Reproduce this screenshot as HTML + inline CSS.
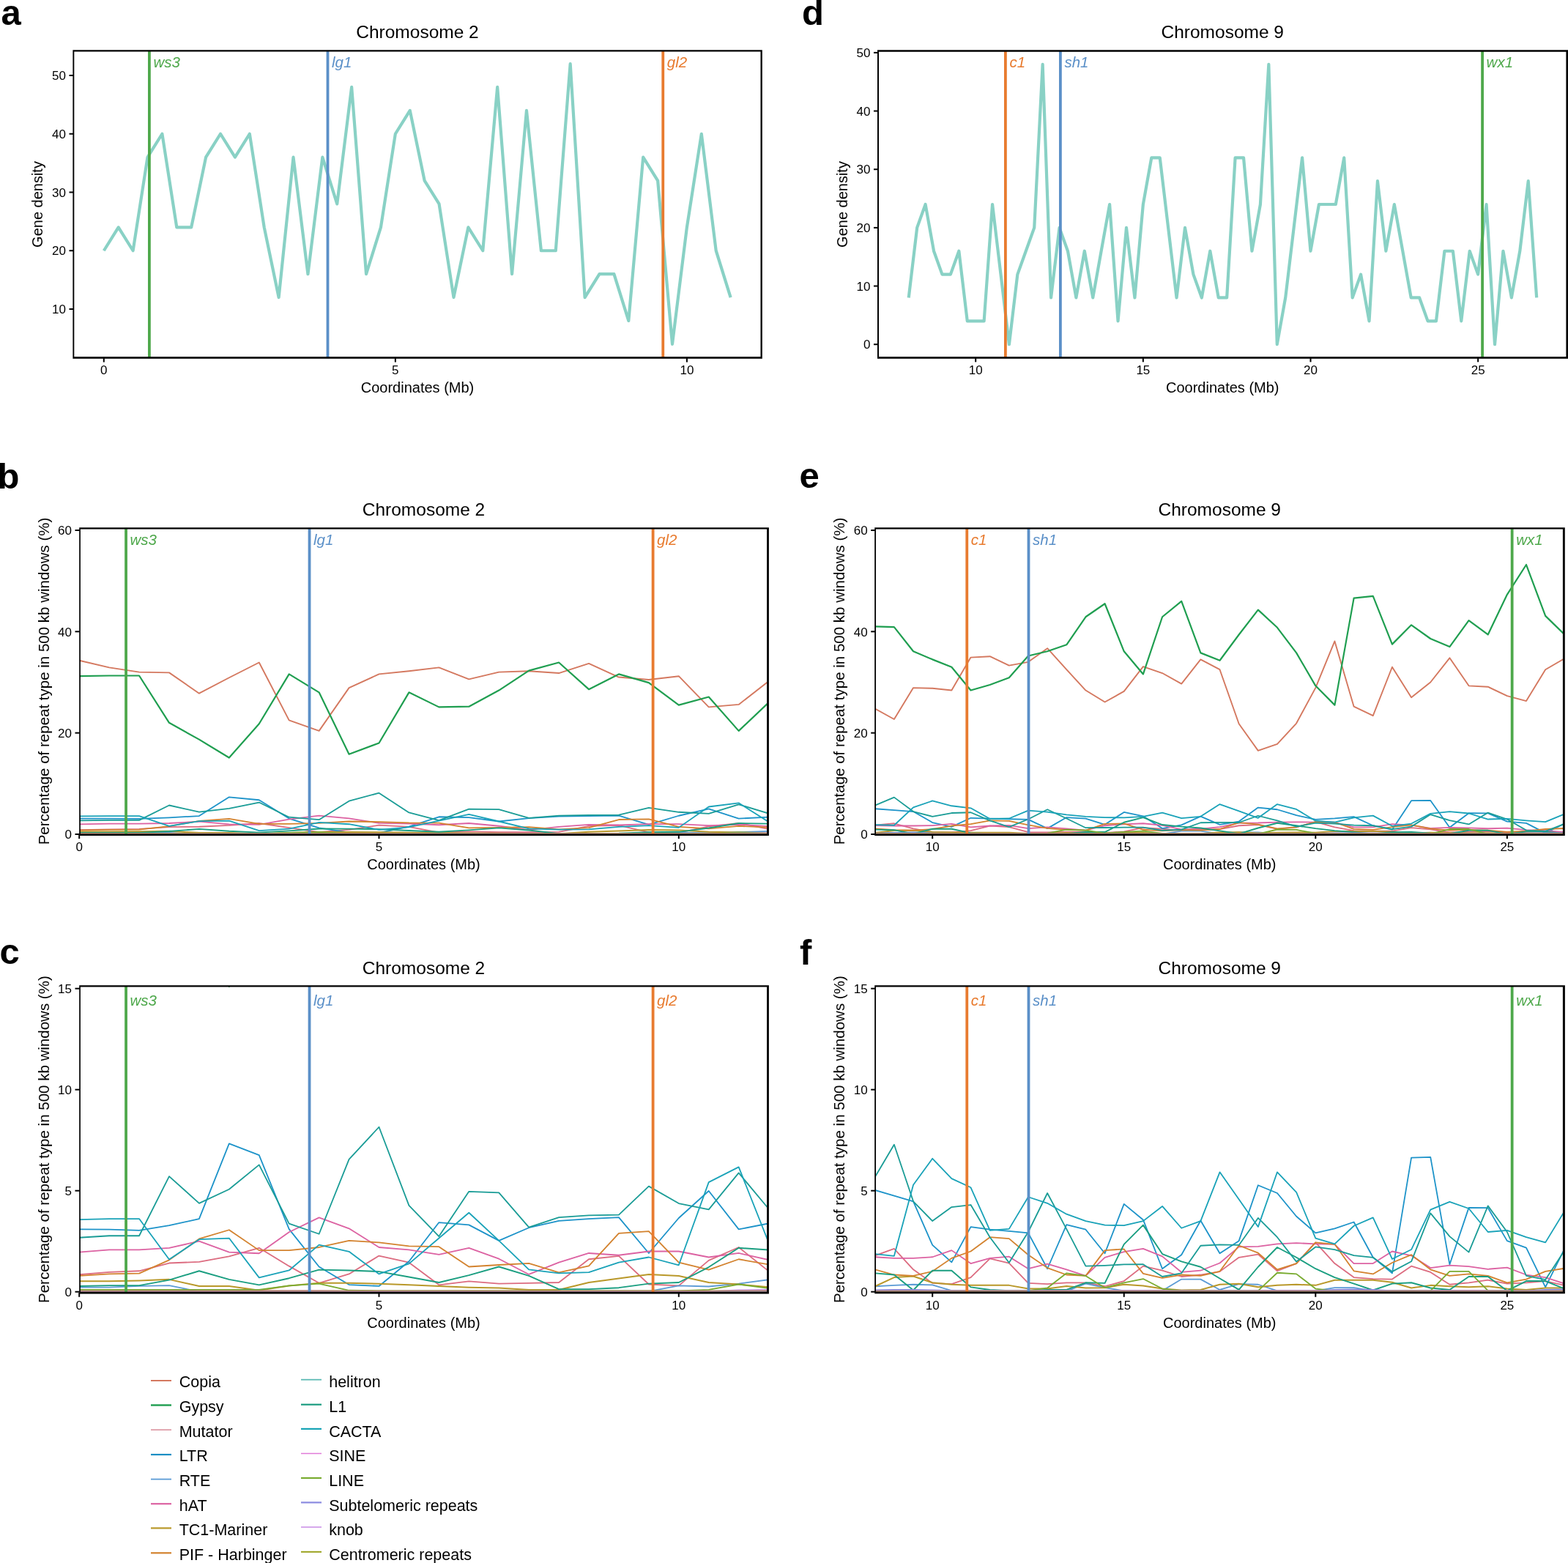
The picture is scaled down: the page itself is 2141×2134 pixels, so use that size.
<!DOCTYPE html>
<html><head><meta charset="utf-8"><title>Figure</title>
<style>html,body{margin:0;padding:0;background:#fff;overflow:hidden;}svg{display:block;}</style>
</head><body>
<svg width="2141" height="2134" viewBox="0 0 2141 2134" font-family='"Liberation Sans", Arial, Helvetica, sans-serif'>
<rect width="2141" height="2134" fill="#fff"/>
<defs>
</defs>
<polyline points="141.8,342.25 161.7,310.35 181.61,342.25 201.51,214.65 221.41,182.75 241.31,310.35 261.22,310.35 281.12,214.65 301.02,182.75 320.92,214.65 340.83,182.75 360.73,310.35 380.63,406.05 400.53,214.65 420.44,374.15 440.34,214.65 460.24,278.45 480.14,118.95 500.05,374.15 519.95,310.35 539.85,182.75 559.75,150.85 579.65,246.55 599.56,278.45 619.46,406.05 639.36,310.35 659.27,342.25 679.17,118.95 699.07,374.15 718.97,150.85 738.88,342.25 758.78,342.25 778.68,87.05 798.58,406.05 818.48,374.15 838.39,374.15 858.29,437.95 878.19,214.65 898.1,246.55 918,469.85 937.9,310.35 957.8,182.75 977.7,342.25 997.61,406.05" fill="none" stroke="#89d1c5" stroke-width="4.2" stroke-linejoin="round" stroke-linecap="butt"/>
<line x1="203.9" y1="69.5" x2="203.9" y2="488.5" stroke="#4ea84b" stroke-width="3.8"/>
<text x="209.4" y="92.3" font-size="20.5" text-anchor="start" font-weight="normal" font-style="italic" fill="#4ea84b">ws3</text>
<line x1="447.5" y1="69.5" x2="447.5" y2="488.5" stroke="#5b90c8" stroke-width="3.8"/>
<text x="453" y="92.3" font-size="20.5" text-anchor="start" font-weight="normal" font-style="italic" fill="#5b90c8">lg1</text>
<line x1="905.26" y1="69.5" x2="905.26" y2="488.5" stroke="#e87b2f" stroke-width="3.8"/>
<text x="910.76" y="92.3" font-size="20.5" text-anchor="start" font-weight="normal" font-style="italic" fill="#e87b2f">gl2</text>
<path fill="#000" fill-rule="evenodd" d="M99.4 68.3H1040.8V489.7H99.4Z M101.3 70.6H1038.5V487.1H101.3Z"/>
<line x1="141.8" y1="488.5" x2="141.8" y2="494.5" stroke="#000" stroke-width="2"/>
<text x="141.8" y="511.3" font-size="17" text-anchor="middle" font-weight="normal" font-style="normal" fill="#000">0</text>
<line x1="539.85" y1="488.5" x2="539.85" y2="494.5" stroke="#000" stroke-width="2"/>
<text x="539.85" y="511.3" font-size="17" text-anchor="middle" font-weight="normal" font-style="normal" fill="#000">5</text>
<line x1="937.9" y1="488.5" x2="937.9" y2="494.5" stroke="#000" stroke-width="2"/>
<text x="937.9" y="511.3" font-size="17" text-anchor="middle" font-weight="normal" font-style="normal" fill="#000">10</text>
<line x1="94.5" y1="422" x2="100.5" y2="422" stroke="#000" stroke-width="2"/>
<text x="90" y="428.2" font-size="17" text-anchor="end" font-weight="normal" font-style="normal" fill="#000">10</text>
<line x1="94.5" y1="342.25" x2="100.5" y2="342.25" stroke="#000" stroke-width="2"/>
<text x="90" y="348.45" font-size="17" text-anchor="end" font-weight="normal" font-style="normal" fill="#000">20</text>
<line x1="94.5" y1="262.5" x2="100.5" y2="262.5" stroke="#000" stroke-width="2"/>
<text x="90" y="268.7" font-size="17" text-anchor="end" font-weight="normal" font-style="normal" fill="#000">30</text>
<line x1="94.5" y1="182.75" x2="100.5" y2="182.75" stroke="#000" stroke-width="2"/>
<text x="90" y="188.95" font-size="17" text-anchor="end" font-weight="normal" font-style="normal" fill="#000">40</text>
<line x1="94.5" y1="103" x2="100.5" y2="103" stroke="#000" stroke-width="2"/>
<text x="90" y="109.2" font-size="17" text-anchor="end" font-weight="normal" font-style="normal" fill="#000">50</text>
<text x="570" y="52.3" font-size="24.5" text-anchor="middle" font-weight="normal" font-style="normal" fill="#000">Chromosome 2</text>
<text x="570" y="535.7" font-size="20" text-anchor="middle" font-weight="normal" font-style="normal" fill="#000">Coordinates (Mb)</text>
<text transform="translate(57.8,279) rotate(-90)" font-size="20" text-anchor="middle">Gene density</text>
<polyline points="1240.74,406.47 1252.17,310.88 1263.61,279.02 1275.04,342.74 1286.47,374.61 1297.9,374.61 1309.34,342.74 1320.77,438.34 1332.2,438.34 1343.63,438.34 1355.07,279.02 1366.5,374.61 1377.93,470.2 1389.36,374.61 1400.8,342.74 1412.23,310.88 1423.66,87.83 1435.09,406.47 1446.53,310.88 1457.96,342.74 1469.39,406.47 1480.82,342.74 1492.26,406.47 1503.69,342.74 1515.12,279.02 1526.55,438.34 1537.99,310.88 1549.42,406.47 1560.85,279.02 1572.28,215.29 1583.72,215.29 1595.15,310.88 1606.58,406.47 1618.01,310.88 1629.45,374.61 1640.88,406.47 1652.31,342.74 1663.74,406.47 1675.17,406.47 1686.61,215.29 1698.04,215.29 1709.47,342.74 1720.9,279.02 1732.34,87.83 1743.77,470.2 1755.2,406.47 1766.63,310.88 1778.07,215.29 1789.5,342.74 1800.93,279.02 1812.37,279.02 1823.8,279.02 1835.23,215.29 1846.66,406.47 1858.1,374.61 1869.53,438.34 1880.96,247.15 1892.39,342.74 1903.83,279.02 1915.26,342.74 1926.69,406.47 1938.12,406.47 1949.55,438.34 1960.99,438.34 1972.42,342.74 1983.85,342.74 1995.28,438.34 2006.72,342.74 2018.15,374.61 2029.58,279.02 2041.01,470.2 2052.45,342.74 2063.88,406.47 2075.31,342.74 2086.74,247.15 2098.18,406.47" fill="none" stroke="#89d1c5" stroke-width="4.2" stroke-linejoin="round" stroke-linecap="butt"/>
<line x1="1372.9" y1="69.7" x2="1372.9" y2="488.3" stroke="#e87b2f" stroke-width="3.8"/>
<text x="1378.4" y="92.3" font-size="20.5" text-anchor="start" font-weight="normal" font-style="italic" fill="#e87b2f">c1</text>
<line x1="1447.9" y1="69.7" x2="1447.9" y2="488.3" stroke="#5b90c8" stroke-width="3.8"/>
<text x="1453.4" y="92.3" font-size="20.5" text-anchor="start" font-weight="normal" font-style="italic" fill="#5b90c8">sh1</text>
<line x1="2024.09" y1="69.7" x2="2024.09" y2="488.3" stroke="#4ea84b" stroke-width="3.8"/>
<text x="2029.59" y="92.3" font-size="20.5" text-anchor="start" font-weight="normal" font-style="italic" fill="#4ea84b">wx1</text>
<path fill="#000" fill-rule="evenodd" d="M1198 68.3H2141.5V489.8H1198Z M1200 70.8H2138.4V487H1200Z"/>
<line x1="1332.2" y1="488.3" x2="1332.2" y2="494.3" stroke="#000" stroke-width="2"/>
<text x="1332.2" y="511.1" font-size="17" text-anchor="middle" font-weight="normal" font-style="normal" fill="#000">10</text>
<line x1="1560.85" y1="488.3" x2="1560.85" y2="494.3" stroke="#000" stroke-width="2"/>
<text x="1560.85" y="511.1" font-size="17" text-anchor="middle" font-weight="normal" font-style="normal" fill="#000">15</text>
<line x1="1789.5" y1="488.3" x2="1789.5" y2="494.3" stroke="#000" stroke-width="2"/>
<text x="1789.5" y="511.1" font-size="17" text-anchor="middle" font-weight="normal" font-style="normal" fill="#000">20</text>
<line x1="2018.15" y1="488.3" x2="2018.15" y2="494.3" stroke="#000" stroke-width="2"/>
<text x="2018.15" y="511.1" font-size="17" text-anchor="middle" font-weight="normal" font-style="normal" fill="#000">25</text>
<line x1="1193" y1="470.2" x2="1199" y2="470.2" stroke="#000" stroke-width="2"/>
<text x="1188.5" y="476.4" font-size="17" text-anchor="end" font-weight="normal" font-style="normal" fill="#000">0</text>
<line x1="1193" y1="390.54" x2="1199" y2="390.54" stroke="#000" stroke-width="2"/>
<text x="1188.5" y="396.74" font-size="17" text-anchor="end" font-weight="normal" font-style="normal" fill="#000">10</text>
<line x1="1193" y1="310.88" x2="1199" y2="310.88" stroke="#000" stroke-width="2"/>
<text x="1188.5" y="317.08" font-size="17" text-anchor="end" font-weight="normal" font-style="normal" fill="#000">20</text>
<line x1="1193" y1="231.22" x2="1199" y2="231.22" stroke="#000" stroke-width="2"/>
<text x="1188.5" y="237.42" font-size="17" text-anchor="end" font-weight="normal" font-style="normal" fill="#000">30</text>
<line x1="1193" y1="151.56" x2="1199" y2="151.56" stroke="#000" stroke-width="2"/>
<text x="1188.5" y="157.76" font-size="17" text-anchor="end" font-weight="normal" font-style="normal" fill="#000">40</text>
<line x1="1193" y1="71.9" x2="1199" y2="71.9" stroke="#000" stroke-width="2"/>
<text x="1188.5" y="78.1" font-size="17" text-anchor="end" font-weight="normal" font-style="normal" fill="#000">50</text>
<text x="1669.25" y="52.3" font-size="24.5" text-anchor="middle" font-weight="normal" font-style="normal" fill="#000">Chromosome 9</text>
<text x="1669.25" y="535.7" font-size="20" text-anchor="middle" font-weight="normal" font-style="normal" fill="#000">Coordinates (Mb)</text>
<text transform="translate(1157,279) rotate(-90)" font-size="20" text-anchor="middle">Gene density</text>
<clipPath id="cb"><rect x="108.5" y="720.8" width="940" height="418.4"/></clipPath>
<g clip-path="url(#cb)">
<polyline points="108.2,901.75 149.13,911.43 190.06,917.66 230.99,918.35 271.92,946.71 312.85,925.26 353.78,904.51 394.71,983.37 435.64,997.89 476.57,939.1 517.5,920.42 558.43,916.27 599.36,911.43 640.29,927.34 681.22,917.66 722.15,916.27 763.08,919.04 804.01,905.9 844.94,924.57 885.87,928.03 926.8,923.19 967.73,965.38 1008.66,961.92 1049.59,930.11" fill="none" stroke="#d4785f" stroke-width="1.9" stroke-linejoin="round" stroke-linecap="butt"/>
<polyline points="108.2,923.19 149.13,922.5 190.06,922.5 230.99,986.83 271.92,1009.65 312.85,1034.55 353.78,988.21 394.71,920.42 435.64,945.32 476.57,1029.71 517.5,1014.49 558.43,945.32 599.36,965.38 640.29,964.69 681.22,942.56 722.15,915.58 763.08,904.51 804.01,941.17 844.94,920.42 885.87,932.18 926.8,962.62 967.73,951.55 1008.66,997.89 1049.59,959.16" fill="none" stroke="#1f9e50" stroke-width="2.2" stroke-linejoin="round" stroke-linecap="butt"/>
<polyline points="108.2,1133.12 149.13,1132.29 190.06,1131.88 230.99,1129.18 271.92,1128.76 312.85,1126.9 353.78,1123.99 394.71,1130.22 435.64,1136.03 476.57,1132.91 517.5,1126.69 558.43,1128.97 599.36,1136.65 640.29,1135.4 681.22,1136.23 722.15,1136.03 763.08,1135.82 804.01,1127.86 844.94,1126.76 885.87,1136.44 926.8,1136.92 967.73,1128.28 1008.66,1123.78 1049.59,1131.94" fill="none" stroke="#dc6c80" stroke-width="1.8" stroke-linejoin="round" stroke-linecap="butt"/>
<polyline points="108.2,1117.63 149.13,1117.7 190.06,1117.97 230.99,1116.31 271.92,1114.03 312.85,1088.3 353.78,1092.24 394.71,1117.56 435.64,1130.42 476.57,1136.58 517.5,1137.06 558.43,1128.62 599.36,1115.27 640.29,1116.1 681.22,1121.5 722.15,1117.07 763.08,1114.72 804.01,1114.03 844.94,1113.55 885.87,1125.79 926.8,1113.75 967.73,1104.48 1008.66,1117.63 1049.59,1115.62" fill="none" stroke="#1d93c9" stroke-width="1.8" stroke-linejoin="round" stroke-linecap="butt"/>
<polyline points="108.2,1137.48 149.13,1137.48 190.06,1137.06 230.99,1136.86 271.92,1138.93 312.85,1139 353.78,1139 394.71,1138.86 435.64,1138.86 476.57,1138.86 517.5,1138.86 558.43,1138.86 599.36,1138.86 640.29,1138.86 681.22,1138.86 722.15,1138.86 763.08,1138.86 804.01,1138.86 844.94,1138.86 885.87,1138.86 926.8,1136.92 967.73,1137.2 1008.66,1136.23 1049.59,1134.85" fill="none" stroke="#5b9bd5" stroke-width="1.8" stroke-linejoin="round" stroke-linecap="butt"/>
<polyline points="108.2,1125.44 149.13,1124.61 190.06,1124.61 230.99,1123.99 271.92,1121.71 312.85,1125.44 353.78,1125.86 394.71,1118.59 435.64,1113.61 476.57,1117.35 517.5,1123.78 558.43,1124.61 599.36,1126.27 640.29,1123.99 681.22,1127.73 722.15,1133.05 763.08,1128.97 804.01,1125.79 844.94,1126.48 885.87,1125.17 926.8,1125.17 967.73,1127.17 1008.66,1125.79 1049.59,1128.07" fill="none" stroke="#dc62a2" stroke-width="1.8" stroke-linejoin="round" stroke-linecap="butt"/>
<polyline points="108.2,1135.4 149.13,1135.4 190.06,1135.2 230.99,1134.78 271.92,1137.06 312.85,1137.06 353.78,1138.52 394.71,1136.92 435.64,1136.03 476.57,1136.03 517.5,1136.23 558.43,1136.65 599.36,1137.06 640.29,1137.48 681.22,1137.69 722.15,1138.31 763.08,1138.31 804.01,1135.82 844.94,1134.43 885.87,1133.05 926.8,1133.54 967.73,1135.82 1008.66,1136.44 1049.59,1137.41" fill="none" stroke="#b9982a" stroke-width="2.0" stroke-linejoin="round" stroke-linecap="butt"/>
<polyline points="108.2,1133.54 149.13,1132.91 190.06,1132.71 230.99,1128.14 271.92,1120.88 312.85,1117.83 353.78,1124.82 394.71,1124.82 435.64,1123.78 476.57,1121.5 517.5,1122.12 558.43,1123.37 599.36,1123.58 640.29,1130.42 681.22,1129.8 722.15,1129.25 763.08,1132.43 804.01,1130.15 844.94,1119.01 885.87,1118.32 926.8,1128.97 967.73,1131.46 1008.66,1127.86 1049.59,1129.66" fill="none" stroke="#d3822e" stroke-width="1.8" stroke-linejoin="round" stroke-linecap="butt"/>
<polyline points="108.2,1137.06 149.13,1136.86 190.06,1136.86 230.99,1134.99 271.92,1131.88 312.85,1134.78 353.78,1136.65 394.71,1134.37 435.64,1131.46 476.57,1131.67 517.5,1132.08 558.43,1133.95 599.36,1135.82 640.29,1133.33 681.22,1130.42 722.15,1133.54 763.08,1138.1 804.01,1138.1 844.94,1137.62 885.87,1136.23 926.8,1135.82 967.73,1130.56 1008.66,1123.99 1049.59,1124.68" fill="none" stroke="#1a9e80" stroke-width="1.9" stroke-linejoin="round" stroke-linecap="butt"/>
<polyline points="108.2,1120.46 149.13,1119.84 190.06,1119.84 230.99,1099.5 271.92,1108.7 312.85,1103.93 353.78,1095.56 394.71,1115.69 435.64,1119.22 476.57,1093.69 517.5,1082.63 558.43,1109.46 599.36,1120.05 640.29,1104.69 681.22,1105.11 722.15,1116.93 763.08,1113.55 804.01,1112.85 844.94,1112.65 885.87,1102.89 926.8,1108.77 967.73,1110.85 1008.66,1098.33 1049.59,1110.64" fill="none" stroke="#1a9c96" stroke-width="1.8" stroke-linejoin="round" stroke-linecap="butt"/>
<polyline points="108.2,1114.31 149.13,1114.03 190.06,1114.03 230.99,1127.93 271.92,1121.08 312.85,1120.67 353.78,1134.16 394.71,1131.67 435.64,1122.95 476.57,1125.24 517.5,1132.91 558.43,1129.39 599.36,1120.67 640.29,1111.95 681.22,1121.5 722.15,1131.39 763.08,1132.64 804.01,1132.36 844.94,1128.97 885.87,1127.17 926.8,1129.87 967.73,1101.51 1008.66,1096.32 1049.59,1122.19" fill="none" stroke="#19a2b8" stroke-width="1.8" stroke-linejoin="round" stroke-linecap="butt"/>
<polyline points="108.2,1138.79 149.13,1138.79 190.06,1138.65 230.99,1138.65 271.92,1138.65 312.85,1138.65 353.78,1138.65 394.71,1138.65 435.64,1138.65 476.57,1138.79 517.5,1138.79 558.43,1138.79 599.36,1138.79 640.29,1138.79 681.22,1138.79 722.15,1138.79 763.08,1138.79 804.01,1138.79 844.94,1138.79 885.87,1138.79 926.8,1138.79 967.73,1138.79 1008.66,1138.79 1049.59,1138.65" fill="none" stroke="#d873b8" stroke-width="3.4" stroke-linejoin="round" stroke-linecap="butt"/>
<polyline points="108.2,1138.31 149.13,1138.31 190.06,1138.31 230.99,1138.31 271.92,1138.31 312.85,1138.31 353.78,1138.31 394.71,1136.92 435.64,1136.23 476.57,1138.52 517.5,1138.65 558.43,1138.65 599.36,1138.65 640.29,1138.65 681.22,1138.65 722.15,1138.65 763.08,1138.65 804.01,1138.65 844.94,1138.65 885.87,1138.65 926.8,1138.65 967.73,1138.31 1008.66,1136.44 1049.59,1137.82" fill="none" stroke="#79ab30" stroke-width="1.8" stroke-linejoin="round" stroke-linecap="butt"/>
<polyline points="108.2,1138.86 149.13,1138.86 190.06,1138.86 230.99,1138.86 271.92,1138.86 312.85,1138.86 353.78,1138.86 394.71,1138.86 435.64,1138.86 476.57,1138.86 517.5,1138.86 558.43,1138.86 599.36,1138.86 640.29,1138.86 681.22,1138.86 722.15,1138.86 763.08,1138.86 804.01,1138.86 844.94,1138.86 885.87,1138.86 926.8,1138.86 967.73,1138.86 1008.66,1138.86 1049.59,1138.86" fill="none" stroke="#8a8ae0" stroke-width="3.4" stroke-linejoin="round" stroke-linecap="butt"/>
<polyline points="108.2,1138.86 149.13,1138.86 190.06,1138.86 230.99,1138.86 271.92,1138.86 312.85,1138.86 353.78,1138.86 394.71,1138.86 435.64,1138.86 476.57,1138.86 517.5,1138.86 558.43,1138.86 599.36,1138.86 640.29,1138.86 681.22,1138.86 722.15,1138.86 763.08,1138.86 804.01,1138.86 844.94,1138.86 885.87,1138.86 926.8,1138.86 967.73,1138.86 1008.66,1138.45 1049.59,1138.31" fill="none" stroke="#c98be6" stroke-width="3.4" stroke-linejoin="round" stroke-linecap="butt"/>
<polyline points="108.2,1138.72 149.13,1138.72 190.06,1138.72 230.99,1138.72 271.92,1138.72 312.85,1138.72 353.78,1138.72 394.71,1138.72 435.64,1138.72 476.57,1138.72 517.5,1138.72 558.43,1138.72 599.36,1138.72 640.29,1138.72 681.22,1138.72 722.15,1138.72 763.08,1138.72 804.01,1138.72 844.94,1138.72 885.87,1138.72 926.8,1138.72 967.73,1138.72 1008.66,1138.72 1049.59,1138.72" fill="none" stroke="#b08a70" stroke-width="3.4" stroke-linejoin="round" stroke-linecap="butt"/>
</g>
<line x1="172.05" y1="720.8" x2="172.05" y2="1139.2" stroke="#4ea84b" stroke-width="3.8"/>
<text x="177.55" y="743.5" font-size="20.5" text-anchor="start" font-weight="normal" font-style="italic" fill="#4ea84b">ws3</text>
<line x1="422.54" y1="720.8" x2="422.54" y2="1139.2" stroke="#5b90c8" stroke-width="3.8"/>
<text x="428.04" y="743.5" font-size="20.5" text-anchor="start" font-weight="normal" font-style="italic" fill="#5b90c8">lg1</text>
<line x1="891.6" y1="720.8" x2="891.6" y2="1139.2" stroke="#e87b2f" stroke-width="3.8"/>
<text x="897.1" y="743.5" font-size="20.5" text-anchor="start" font-weight="normal" font-style="italic" fill="#e87b2f">gl2</text>
<path fill="#000" fill-rule="evenodd" d="M108.2 720.2H1049.9V1140.9H108.2Z M109.9 722.4H1047.1V1138.5H109.9Z"/>
<line x1="108.2" y1="1139.2" x2="108.2" y2="1145.2" stroke="#000" stroke-width="2"/>
<text x="108.2" y="1162" font-size="17" text-anchor="middle" font-weight="normal" font-style="normal" fill="#000">0</text>
<line x1="517.5" y1="1139.2" x2="517.5" y2="1145.2" stroke="#000" stroke-width="2"/>
<text x="517.5" y="1162" font-size="17" text-anchor="middle" font-weight="normal" font-style="normal" fill="#000">5</text>
<line x1="926.8" y1="1139.2" x2="926.8" y2="1145.2" stroke="#000" stroke-width="2"/>
<text x="926.8" y="1162" font-size="17" text-anchor="middle" font-weight="normal" font-style="normal" fill="#000">10</text>
<line x1="102.5" y1="1139" x2="108.5" y2="1139" stroke="#000" stroke-width="2"/>
<text x="98" y="1145.2" font-size="17" text-anchor="end" font-weight="normal" font-style="normal" fill="#000">0</text>
<line x1="102.5" y1="1000.66" x2="108.5" y2="1000.66" stroke="#000" stroke-width="2"/>
<text x="98" y="1006.86" font-size="17" text-anchor="end" font-weight="normal" font-style="normal" fill="#000">20</text>
<line x1="102.5" y1="862.32" x2="108.5" y2="862.32" stroke="#000" stroke-width="2"/>
<text x="98" y="868.52" font-size="17" text-anchor="end" font-weight="normal" font-style="normal" fill="#000">40</text>
<line x1="102.5" y1="723.98" x2="108.5" y2="723.98" stroke="#000" stroke-width="2"/>
<text x="98" y="730.18" font-size="17" text-anchor="end" font-weight="normal" font-style="normal" fill="#000">60</text>
<text x="578.5" y="703.6" font-size="24.5" text-anchor="middle" font-weight="normal" font-style="normal" fill="#000">Chromosome 2</text>
<text x="578.5" y="1187.1" font-size="20" text-anchor="middle" font-weight="normal" font-style="normal" fill="#000">Coordinates (Mb)</text>
<text transform="translate(66.5,930) rotate(-90)" font-size="20.5" text-anchor="middle">Percentage of repeat type in 500 kb windows (%)</text>
<clipPath id="ce"><rect x="1195.2" y="720.8" width="940.1" height="418.4"/></clipPath>
<g clip-path="url(#ce)">
<polyline points="1194.74,967.46 1220.89,981.98 1247.05,939.1 1273.2,939.79 1299.36,942.56 1325.51,897.6 1351.66,896.21 1377.82,908.66 1403.98,903.82 1430.13,885.15 1456.29,914.2 1482.44,942.56 1508.6,958.47 1534.75,943.94 1560.91,910.05 1587.06,919.04 1613.22,933.57 1639.37,900.36 1665.53,914.2 1691.68,988.21 1717.84,1024.87 1743.99,1015.88 1770.14,987.52 1796.3,939.1 1822.45,875.46 1848.61,964.69 1874.77,977.14 1900.92,910.74 1927.08,952.24 1953.23,931.49 1979.39,898.29 2005.54,936.33 2031.7,937.72 2057.85,950.17 2084.01,957.08 2110.16,914.2 2136.32,898.98" fill="none" stroke="#d4785f" stroke-width="1.9" stroke-linejoin="round" stroke-linecap="butt"/>
<polyline points="1194.74,855.4 1220.89,856.09 1247.05,889.3 1273.2,900.36 1299.36,910.74 1325.51,942.56 1351.66,934.95 1377.82,925.26 1403.98,895.52 1430.13,889.3 1456.29,880.3 1482.44,842.26 1508.6,824.28 1534.75,889.3 1560.91,920.42 1587.06,842.26 1613.22,820.82 1639.37,891.37 1665.53,901.75 1691.68,866.47 1717.84,832.58 1743.99,856.79 1770.14,891.37 1796.3,936.33 1822.45,962.62 1848.61,816.67 1874.77,813.9 1900.92,879.61 1927.08,853.33 1953.23,872 1979.39,883.07 2005.54,847.1 2031.7,866.47 2057.85,811.83 2084.01,771.02 2110.16,840.88 2136.32,866.47" fill="none" stroke="#1f9e50" stroke-width="2.2" stroke-linejoin="round" stroke-linecap="butt"/>
<polyline points="1194.74,1126.62 1220.89,1124.27 1247.05,1131.39 1273.2,1136.03 1299.36,1136.37 1325.51,1134.09 1351.66,1127.66 1377.82,1129.18 1403.98,1136.03 1430.13,1136.37 1456.29,1135.89 1482.44,1135.89 1508.6,1137.13 1534.75,1135.33 1560.91,1130.22 1587.06,1131.74 1613.22,1133.81 1639.37,1133.19 1665.53,1132.08 1691.68,1127.24 1717.84,1126.2 1743.99,1131.88 1770.14,1129.32 1796.3,1122.12 1822.45,1129.32 1848.61,1134.09 1874.77,1134.57 1900.92,1134.71 1927.08,1130.22 1953.23,1132.29 1979.39,1136.51 2005.54,1135.89 2031.7,1134.99 2057.85,1136.23 2084.01,1135.89 2110.16,1135.33 2136.32,1136.79" fill="none" stroke="#dc6c80" stroke-width="1.8" stroke-linejoin="round" stroke-linecap="butt"/>
<polyline points="1194.74,1104.21 1220.89,1106.14 1247.05,1108.08 1273.2,1123.02 1299.36,1128.9 1325.51,1116.8 1351.66,1117.7 1377.82,1118.25 1403.98,1118.87 1430.13,1131.11 1456.29,1116.04 1482.44,1117.7 1508.6,1125.86 1534.75,1108.98 1560.91,1114.38 1587.06,1131.11 1613.22,1126.34 1639.37,1114.65 1665.53,1125.86 1691.68,1121.57 1717.84,1102.55 1743.99,1105.25 1770.14,1113.2 1796.3,1118.87 1822.45,1117.35 1848.61,1115.14 1874.77,1127.24 1900.92,1132.64 1927.08,1093.14 1953.23,1092.93 1979.39,1129.66 2005.54,1110.23 2031.7,1110.29 2057.85,1121.57 2084.01,1123.92 2110.16,1137.41 2136.32,1124.27" fill="none" stroke="#1d93c9" stroke-width="1.8" stroke-linejoin="round" stroke-linecap="butt"/>
<polyline points="1194.74,1137.13 1220.89,1136.79 1247.05,1136.51 1273.2,1136.65 1299.36,1138.58 1325.51,1138.79 1351.66,1138.79 1377.82,1138.79 1403.98,1138.79 1430.13,1138.79 1456.29,1138.79 1482.44,1136.23 1508.6,1137.62 1534.75,1138.65 1560.91,1138.65 1587.06,1138.65 1613.22,1134.71 1639.37,1134.71 1665.53,1138.31 1691.68,1136.37 1717.84,1136.51 1743.99,1138.65 1770.14,1138.65 1796.3,1138.65 1822.45,1137.62 1848.61,1137.62 1874.77,1138.65 1900.92,1138.65 1927.08,1138.65 1953.23,1138.65 1979.39,1138.65 2005.54,1138.65 2031.7,1138.65 2057.85,1138.65 2084.01,1138.65 2110.16,1138.65 2136.32,1138.65" fill="none" stroke="#5b9bd5" stroke-width="1.8" stroke-linejoin="round" stroke-linecap="butt"/>
<polyline points="1194.74,1127.1 1220.89,1127.52 1247.05,1127.52 1273.2,1127.1 1299.36,1124.82 1325.51,1129.32 1351.66,1127.52 1377.82,1126.96 1403.98,1131.11 1430.13,1129.45 1456.29,1131.39 1482.44,1133.54 1508.6,1127.24 1534.75,1125.3 1560.91,1124.27 1587.06,1126.9 1613.22,1132.29 1639.37,1131.74 1665.53,1129.18 1691.68,1123.64 1717.84,1123.51 1743.99,1122.61 1770.14,1122.33 1796.3,1122.61 1822.45,1122.75 1848.61,1129.32 1874.77,1129.32 1900.92,1125.17 1927.08,1126.62 1953.23,1130.84 1979.39,1129.94 2005.54,1130.35 2031.7,1131.25 2057.85,1130.7 2084.01,1133.19 2110.16,1134.09 2136.32,1136.23" fill="none" stroke="#dc62a2" stroke-width="1.8" stroke-linejoin="round" stroke-linecap="butt"/>
<polyline points="1194.74,1137.13 1220.89,1134.09 1247.05,1133.67 1273.2,1135.89 1299.36,1136.51 1325.51,1136.79 1351.66,1136.79 1377.82,1136.79 1403.98,1137.96 1430.13,1137.96 1456.29,1137.06 1482.44,1137.69 1508.6,1137.62 1534.75,1136.51 1560.91,1136.92 1587.06,1137.96 1613.22,1138.45 1639.37,1138.31 1665.53,1136.51 1691.68,1136.23 1717.84,1137.41 1743.99,1136.79 1770.14,1136.51 1796.3,1136.79 1822.45,1134.99 1848.61,1134.99 1874.77,1134.99 1900.92,1135.75 1927.08,1137.69 1953.23,1136.79 1979.39,1137.13 2005.54,1137.41 2031.7,1137.13 2057.85,1137.96 2084.01,1138.31 2110.16,1137.69 2136.32,1137.69" fill="none" stroke="#b9982a" stroke-width="2.0" stroke-linejoin="round" stroke-linecap="butt"/>
<polyline points="1194.74,1131.39 1220.89,1133.19 1247.05,1133.54 1273.2,1132.01 1299.36,1127.52 1325.51,1125.17 1351.66,1120.32 1377.82,1120.81 1403.98,1126.34 1430.13,1130.84 1456.29,1133.19 1482.44,1133.54 1508.6,1124.82 1534.75,1124.41 1560.91,1132.77 1587.06,1134.3 1613.22,1133.19 1639.37,1133.54 1665.53,1132.01 1691.68,1123.16 1717.84,1125.72 1743.99,1131.39 1770.14,1129.32 1796.3,1122.12 1822.45,1122.75 1848.61,1131.88 1874.77,1132.91 1900.92,1129.04 1927.08,1126.34 1953.23,1131.39 1979.39,1133.54 2005.54,1132.91 2031.7,1133.54 2057.85,1135.89 2084.01,1134.71 2110.16,1132.01 2136.32,1130.98" fill="none" stroke="#d3822e" stroke-width="1.8" stroke-linejoin="round" stroke-linecap="butt"/>
<polyline points="1194.74,1132.64 1220.89,1133.19 1247.05,1138.45 1273.2,1131.74 1299.36,1131.74 1325.51,1137.41 1351.66,1138.31 1377.82,1138.65 1403.98,1138.65 1430.13,1138.31 1456.29,1138.31 1482.44,1135.89 1508.6,1136.03 1534.75,1122.75 1560.91,1116.17 1587.06,1126.07 1613.22,1128.62 1639.37,1130.49 1665.53,1134.43 1691.68,1138.31 1717.84,1130.49 1743.99,1123.78 1770.14,1127.24 1796.3,1131.11 1822.45,1134.09 1848.61,1136.23 1874.77,1138.45 1900.92,1136.23 1927.08,1135.89 1953.23,1137.69 1979.39,1138.31 2005.54,1133.81 2031.7,1133.81 2057.85,1138.65 2084.01,1135.33 2110.16,1135.33 2136.32,1137.96" fill="none" stroke="#1a9e80" stroke-width="1.9" stroke-linejoin="round" stroke-linecap="butt"/>
<polyline points="1194.74,1099.71 1220.89,1088.64 1247.05,1108.08 1273.2,1114.79 1299.36,1110.02 1325.51,1109.26 1351.66,1120.32 1377.82,1129.04 1403.98,1118.53 1430.13,1105.25 1456.29,1117.56 1482.44,1130.22 1508.6,1130.01 1534.75,1129.66 1560.91,1129.59 1587.06,1133.81 1613.22,1132.64 1639.37,1123.23 1665.53,1122.88 1691.68,1123.02 1717.84,1113.75 1743.99,1120.32 1770.14,1128.69 1796.3,1123.64 1822.45,1124.54 1848.61,1126.55 1874.77,1127.24 1900.92,1132.08 1927.08,1128.62 1953.23,1112.09 1979.39,1120.05 2005.54,1125.44 2031.7,1109.6 2057.85,1118.53 2084.01,1133.54 2110.16,1134.85 2136.32,1124.82" fill="none" stroke="#1a9c96" stroke-width="1.8" stroke-linejoin="round" stroke-linecap="butt"/>
<polyline points="1194.74,1126.07 1220.89,1126.76 1247.05,1102.41 1273.2,1093.42 1299.36,1100.26 1325.51,1103.31 1351.66,1117.97 1377.82,1117.49 1403.98,1106.56 1430.13,1108.7 1456.29,1112.44 1482.44,1114.79 1508.6,1116.17 1534.75,1116.31 1560.91,1114.79 1587.06,1109.74 1613.22,1117.21 1639.37,1114.79 1665.53,1098.05 1691.68,1107.39 1717.84,1116.8 1743.99,1098.05 1770.14,1104.97 1796.3,1120.67 1822.45,1122.61 1848.61,1116.45 1874.77,1113.61 1900.92,1127.79 1927.08,1124.54 1953.23,1110.92 1979.39,1108.22 2005.54,1110.5 2031.7,1118.53 2057.85,1117.97 2084.01,1120.32 2110.16,1122.12 2136.32,1111.4" fill="none" stroke="#19a2b8" stroke-width="1.8" stroke-linejoin="round" stroke-linecap="butt"/>
<polyline points="1194.74,1138.58 1220.89,1138.58 1247.05,1138.58 1273.2,1138.58 1299.36,1138.58 1325.51,1138.58 1351.66,1138.58 1377.82,1138.58 1403.98,1138.58 1430.13,1138.58 1456.29,1138.58 1482.44,1138.58 1508.6,1138.58 1534.75,1138.58 1560.91,1138.58 1587.06,1138.58 1613.22,1138.58 1639.37,1138.58 1665.53,1138.58 1691.68,1138.58 1717.84,1138.58 1743.99,1138.58 1770.14,1138.58 1796.3,1138.58 1822.45,1138.58 1848.61,1138.58 1874.77,1138.58 1900.92,1138.58 1927.08,1138.58 1953.23,1138.58 1979.39,1138.58 2005.54,1138.58 2031.7,1138.58 2057.85,1138.58 2084.01,1138.58 2110.16,1138.58 2136.32,1138.58" fill="none" stroke="#d873b8" stroke-width="3.4" stroke-linejoin="round" stroke-linecap="butt"/>
<polyline points="1194.74,1138.65 1220.89,1138.65 1247.05,1138.65 1273.2,1138.65 1299.36,1138.65 1325.51,1138.65 1351.66,1138.65 1377.82,1138.65 1403.98,1138.65 1430.13,1137.69 1456.29,1132.64 1482.44,1133.54 1508.6,1137.62 1534.75,1135.89 1560.91,1134.57 1587.06,1137.96 1613.22,1138.65 1639.37,1138.65 1665.53,1138.65 1691.68,1138.65 1717.84,1138.65 1743.99,1132.5 1770.14,1132.91 1796.3,1137.96 1822.45,1138.65 1848.61,1138.65 1874.77,1138.65 1900.92,1138.65 1927.08,1138.65 1953.23,1138.65 1979.39,1132.01 2005.54,1132.01 2031.7,1138.58 2057.85,1138.65 2084.01,1138.65 2110.16,1138.65 2136.32,1138.65" fill="none" stroke="#79ab30" stroke-width="1.8" stroke-linejoin="round" stroke-linecap="butt"/>
<polyline points="1194.74,1138.45 1220.89,1138.31 1247.05,1138.31 1273.2,1138.45 1299.36,1138.58 1325.51,1138.65 1351.66,1138.65 1377.82,1138.65 1403.98,1138.65 1430.13,1138.65 1456.29,1138.65 1482.44,1138.65 1508.6,1138.65 1534.75,1138.65 1560.91,1138.65 1587.06,1138.65 1613.22,1138.65 1639.37,1138.65 1665.53,1138.65 1691.68,1138.65 1717.84,1138.65 1743.99,1138.65 1770.14,1138.65 1796.3,1138.65 1822.45,1138.31 1848.61,1138.17 1874.77,1138.31 1900.92,1138.65 1927.08,1138.65 1953.23,1138.65 1979.39,1138.65 2005.54,1138.65 2031.7,1138.65 2057.85,1138.65 2084.01,1138.65 2110.16,1138.31 2136.32,1138.17" fill="none" stroke="#8a8ae0" stroke-width="3.4" stroke-linejoin="round" stroke-linecap="butt"/>
<polyline points="1194.74,1138.72 1220.89,1138.72 1247.05,1138.72 1273.2,1138.72 1299.36,1138.72 1325.51,1138.72 1351.66,1138.72 1377.82,1138.72 1403.98,1138.72 1430.13,1138.72 1456.29,1138.72 1482.44,1138.72 1508.6,1138.72 1534.75,1138.72 1560.91,1138.72 1587.06,1138.72 1613.22,1138.72 1639.37,1138.72 1665.53,1138.72 1691.68,1138.72 1717.84,1138.72 1743.99,1138.72 1770.14,1138.72 1796.3,1138.72 1822.45,1138.72 1848.61,1138.72 1874.77,1138.72 1900.92,1138.72 1927.08,1138.72 1953.23,1138.72 1979.39,1138.72 2005.54,1138.72 2031.7,1138.72 2057.85,1138.72 2084.01,1138.72 2110.16,1138.72 2136.32,1138.72" fill="none" stroke="#c98be6" stroke-width="3.4" stroke-linejoin="round" stroke-linecap="butt"/>
<polyline points="1194.74,1138.79 1220.89,1138.79 1247.05,1138.79 1273.2,1138.79 1299.36,1138.79 1325.51,1138.79 1351.66,1138.79 1377.82,1138.79 1403.98,1138.79 1430.13,1138.79 1456.29,1138.79 1482.44,1138.79 1508.6,1138.79 1534.75,1138.79 1560.91,1138.79 1587.06,1138.79 1613.22,1138.79 1639.37,1138.79 1665.53,1138.79 1691.68,1138.79 1717.84,1138.79 1743.99,1138.79 1770.14,1138.79 1796.3,1138.79 1822.45,1138.79 1848.61,1138.79 1874.77,1138.79 1900.92,1138.79 1927.08,1138.79 1953.23,1138.79 1979.39,1138.79 2005.54,1138.79 2031.7,1138.79 2057.85,1138.79 2084.01,1138.79 2110.16,1138.79 2136.32,1138.79" fill="none" stroke="#b08a70" stroke-width="3.4" stroke-linejoin="round" stroke-linecap="butt"/>
</g>
<line x1="1320.28" y1="720.8" x2="1320.28" y2="1139.2" stroke="#e87b2f" stroke-width="3.8"/>
<text x="1325.78" y="743.5" font-size="20.5" text-anchor="start" font-weight="normal" font-style="italic" fill="#e87b2f">c1</text>
<line x1="1404.5" y1="720.8" x2="1404.5" y2="1139.2" stroke="#5b90c8" stroke-width="3.8"/>
<text x="1410" y="743.5" font-size="20.5" text-anchor="start" font-weight="normal" font-style="italic" fill="#5b90c8">sh1</text>
<line x1="2064.65" y1="720.8" x2="2064.65" y2="1139.2" stroke="#4ea84b" stroke-width="3.8"/>
<text x="2070.15" y="743.5" font-size="20.5" text-anchor="start" font-weight="normal" font-style="italic" fill="#4ea84b">wx1</text>
<path fill="#000" fill-rule="evenodd" d="M1194.2 720.2H2136.8V1140.9H1194.2Z M1196 722.4H2133.9V1138.5H1196Z"/>
<line x1="1273.2" y1="1139.2" x2="1273.2" y2="1145.2" stroke="#000" stroke-width="2"/>
<text x="1273.2" y="1162" font-size="17" text-anchor="middle" font-weight="normal" font-style="normal" fill="#000">10</text>
<line x1="1534.75" y1="1139.2" x2="1534.75" y2="1145.2" stroke="#000" stroke-width="2"/>
<text x="1534.75" y="1162" font-size="17" text-anchor="middle" font-weight="normal" font-style="normal" fill="#000">15</text>
<line x1="1796.3" y1="1139.2" x2="1796.3" y2="1145.2" stroke="#000" stroke-width="2"/>
<text x="1796.3" y="1162" font-size="17" text-anchor="middle" font-weight="normal" font-style="normal" fill="#000">20</text>
<line x1="2057.85" y1="1139.2" x2="2057.85" y2="1145.2" stroke="#000" stroke-width="2"/>
<text x="2057.85" y="1162" font-size="17" text-anchor="middle" font-weight="normal" font-style="normal" fill="#000">25</text>
<line x1="1189.2" y1="1139" x2="1195.2" y2="1139" stroke="#000" stroke-width="2"/>
<text x="1184.7" y="1145.2" font-size="17" text-anchor="end" font-weight="normal" font-style="normal" fill="#000">0</text>
<line x1="1189.2" y1="1000.66" x2="1195.2" y2="1000.66" stroke="#000" stroke-width="2"/>
<text x="1184.7" y="1006.86" font-size="17" text-anchor="end" font-weight="normal" font-style="normal" fill="#000">20</text>
<line x1="1189.2" y1="862.32" x2="1195.2" y2="862.32" stroke="#000" stroke-width="2"/>
<text x="1184.7" y="868.52" font-size="17" text-anchor="end" font-weight="normal" font-style="normal" fill="#000">40</text>
<line x1="1189.2" y1="723.98" x2="1195.2" y2="723.98" stroke="#000" stroke-width="2"/>
<text x="1184.7" y="730.18" font-size="17" text-anchor="end" font-weight="normal" font-style="normal" fill="#000">60</text>
<text x="1665.25" y="703.6" font-size="24.5" text-anchor="middle" font-weight="normal" font-style="normal" fill="#000">Chromosome 9</text>
<text x="1665.25" y="1187.1" font-size="20" text-anchor="middle" font-weight="normal" font-style="normal" fill="#000">Coordinates (Mb)</text>
<text transform="translate(1153,930) rotate(-90)" font-size="20.5" text-anchor="middle">Percentage of repeat type in 500 kb windows (%)</text>
<clipPath id="cc"><rect x="108.5" y="1346.5" width="940" height="418.3"/></clipPath>
<g clip-path="url(#cc)">
<polyline points="108.2,817.02 149.13,855.66 190.06,880.5 230.99,883.26 271.92,996.42 312.85,910.86 353.78,828.06 394.71,1142.7 435.64,1200.66 476.57,966.06 517.5,891.54 558.43,874.98 599.36,855.66 640.29,919.14 681.22,880.5 722.15,874.98 763.08,886.02 804.01,833.58 844.94,908.1 885.87,921.9 926.8,902.58 967.73,1070.94 1008.66,1057.14 1049.59,930.18" fill="none" stroke="#d4785f" stroke-width="1.9" stroke-linejoin="round" stroke-linecap="butt"/>
<polyline points="108.2,902.58 149.13,899.82 190.06,899.82 230.99,1156.5 271.92,1247.58 312.85,1346.94 353.78,1162.02 394.71,891.54 435.64,990.9 476.57,1327.62 517.5,1266.9 558.43,990.9 599.36,1070.94 640.29,1068.18 681.22,979.86 722.15,872.22 763.08,828.06 804.01,974.34 844.94,891.54 885.87,938.46 926.8,1059.9 967.73,1015.74 1008.66,1200.66 1049.59,1046.1" fill="none" stroke="#1f9e50" stroke-width="2.2" stroke-linejoin="round" stroke-linecap="butt"/>
<polyline points="108.2,1740.24 149.13,1736.93 190.06,1735.27 230.99,1724.51 271.92,1722.85 312.85,1715.4 353.78,1703.81 394.71,1728.65 435.64,1751.83 476.57,1739.41 517.5,1714.57 558.43,1723.68 599.36,1754.32 640.29,1749.35 681.22,1752.66 722.15,1751.83 763.08,1751 804.01,1719.26 844.94,1714.85 885.87,1753.49 926.8,1755.42 967.73,1720.92 1008.66,1702.98 1049.59,1735.55" fill="none" stroke="#dc6c80" stroke-width="1.8" stroke-linejoin="round" stroke-linecap="butt"/>
<polyline points="108.2,1678.42 149.13,1678.69 190.06,1679.8 230.99,1673.17 271.92,1664.06 312.85,1561.39 353.78,1577.12 394.71,1678.14 435.64,1729.48 476.57,1754.04 517.5,1755.97 558.43,1722.3 599.36,1669.03 640.29,1672.34 681.22,1693.87 722.15,1676.21 763.08,1666.82 804.01,1664.06 844.94,1662.13 885.87,1710.98 926.8,1662.96 967.73,1625.98 1008.66,1678.42 1049.59,1670.41" fill="none" stroke="#1d93c9" stroke-width="1.8" stroke-linejoin="round" stroke-linecap="butt"/>
<polyline points="108.2,1757.63 149.13,1757.63 190.06,1755.97 230.99,1755.14 271.92,1763.42 312.85,1763.7 353.78,1763.7 394.71,1763.15 435.64,1763.15 476.57,1763.15 517.5,1763.15 558.43,1763.15 599.36,1763.15 640.29,1763.15 681.22,1763.15 722.15,1763.15 763.08,1763.15 804.01,1763.15 844.94,1763.15 885.87,1763.15 926.8,1755.42 967.73,1756.52 1008.66,1752.66 1049.59,1747.14" fill="none" stroke="#5b9bd5" stroke-width="1.8" stroke-linejoin="round" stroke-linecap="butt"/>
<polyline points="108.2,1709.6 149.13,1706.29 190.06,1706.29 230.99,1703.81 271.92,1694.7 312.85,1709.6 353.78,1711.26 394.71,1682.28 435.64,1662.41 476.57,1677.31 517.5,1702.98 558.43,1706.29 599.36,1712.92 640.29,1703.81 681.22,1718.71 722.15,1739.96 763.08,1723.68 804.01,1710.98 844.94,1713.74 885.87,1708.5 926.8,1708.5 967.73,1716.5 1008.66,1710.98 1049.59,1720.09" fill="none" stroke="#dc62a2" stroke-width="1.8" stroke-linejoin="round" stroke-linecap="butt"/>
<polyline points="108.2,1749.35 149.13,1749.35 190.06,1748.52 230.99,1746.86 271.92,1755.97 312.85,1755.97 353.78,1761.77 394.71,1755.42 435.64,1751.83 476.57,1751.83 517.5,1752.66 558.43,1754.32 599.36,1755.97 640.29,1757.63 681.22,1758.46 722.15,1760.94 763.08,1760.94 804.01,1751 844.94,1745.48 885.87,1739.96 926.8,1741.9 967.73,1751 1008.66,1753.49 1049.59,1757.35" fill="none" stroke="#b9982a" stroke-width="2.0" stroke-linejoin="round" stroke-linecap="butt"/>
<polyline points="108.2,1741.9 149.13,1739.41 190.06,1738.58 230.99,1720.37 271.92,1691.39 312.85,1679.24 353.78,1707.12 394.71,1707.12 435.64,1702.98 476.57,1693.87 517.5,1696.36 558.43,1701.32 599.36,1702.15 640.29,1729.48 681.22,1726.99 722.15,1724.78 763.08,1737.48 804.01,1728.37 844.94,1683.94 885.87,1681.18 926.8,1723.68 967.73,1733.62 1008.66,1719.26 1049.59,1726.44" fill="none" stroke="#d3822e" stroke-width="1.8" stroke-linejoin="round" stroke-linecap="butt"/>
<polyline points="108.2,1755.97 149.13,1755.14 190.06,1755.14 230.99,1747.69 271.92,1735.27 312.85,1746.86 353.78,1754.32 394.71,1745.21 435.64,1733.62 476.57,1734.44 517.5,1736.1 558.43,1743.55 599.36,1751 640.29,1741.07 681.22,1729.48 722.15,1741.9 763.08,1760.11 804.01,1760.11 844.94,1758.18 885.87,1752.66 926.8,1751 967.73,1730.03 1008.66,1703.81 1049.59,1706.57" fill="none" stroke="#1a9e80" stroke-width="1.9" stroke-linejoin="round" stroke-linecap="butt"/>
<polyline points="108.2,1689.73 149.13,1687.25 190.06,1687.25 230.99,1606.1 271.92,1642.81 312.85,1623.77 353.78,1590.37 394.71,1670.69 435.64,1684.76 476.57,1582.92 517.5,1538.76 558.43,1645.85 599.36,1688.08 640.29,1626.8 681.22,1628.46 722.15,1675.66 763.08,1662.13 804.01,1659.37 844.94,1658.54 885.87,1619.63 926.8,1643.09 967.73,1651.37 1008.66,1601.41 1049.59,1650.54" fill="none" stroke="#1a9c96" stroke-width="1.8" stroke-linejoin="round" stroke-linecap="butt"/>
<polyline points="108.2,1665.17 149.13,1664.06 190.06,1664.06 230.99,1719.54 271.92,1692.22 312.85,1690.56 353.78,1744.38 394.71,1734.44 435.64,1699.67 476.57,1708.78 517.5,1739.41 558.43,1725.34 599.36,1690.56 640.29,1655.78 681.22,1693.87 722.15,1733.34 763.08,1738.31 804.01,1737.2 844.94,1723.68 885.87,1716.5 926.8,1727.27 967.73,1614.11 1008.66,1593.41 1049.59,1696.63" fill="none" stroke="#19a2b8" stroke-width="1.8" stroke-linejoin="round" stroke-linecap="butt"/>
<polyline points="108.2,1762.87 149.13,1762.87 190.06,1762.32 230.99,1762.32 271.92,1762.32 312.85,1762.32 353.78,1762.32 394.71,1762.32 435.64,1762.32 476.57,1762.87 517.5,1762.87 558.43,1762.87 599.36,1762.87 640.29,1762.87 681.22,1762.87 722.15,1762.87 763.08,1762.87 804.01,1762.87 844.94,1762.87 885.87,1762.87 926.8,1762.87 967.73,1762.87 1008.66,1762.87 1049.59,1762.32" fill="none" stroke="#d873b8" stroke-width="1.8" stroke-linejoin="round" stroke-linecap="butt"/>
<polyline points="108.2,1760.94 149.13,1760.94 190.06,1760.94 230.99,1760.94 271.92,1760.94 312.85,1760.94 353.78,1760.94 394.71,1755.42 435.64,1752.66 476.57,1761.77 517.5,1762.32 558.43,1762.32 599.36,1762.32 640.29,1762.32 681.22,1762.32 722.15,1762.32 763.08,1762.32 804.01,1762.32 844.94,1762.32 885.87,1762.32 926.8,1762.32 967.73,1760.94 1008.66,1753.49 1049.59,1759.01" fill="none" stroke="#79ab30" stroke-width="1.8" stroke-linejoin="round" stroke-linecap="butt"/>
<polyline points="108.2,1763.15 149.13,1763.15 190.06,1763.15 230.99,1763.15 271.92,1763.15 312.85,1763.15 353.78,1763.15 394.71,1763.15 435.64,1763.15 476.57,1763.15 517.5,1763.15 558.43,1763.15 599.36,1763.15 640.29,1763.15 681.22,1763.15 722.15,1763.15 763.08,1763.15 804.01,1763.15 844.94,1763.15 885.87,1763.15 926.8,1763.15 967.73,1763.15 1008.66,1763.15 1049.59,1763.15" fill="none" stroke="#8a8ae0" stroke-width="1.8" stroke-linejoin="round" stroke-linecap="butt"/>
<polyline points="108.2,1763.15 149.13,1763.15 190.06,1763.15 230.99,1763.15 271.92,1763.15 312.85,1763.15 353.78,1763.15 394.71,1763.15 435.64,1763.15 476.57,1763.15 517.5,1763.15 558.43,1763.15 599.36,1763.15 640.29,1763.15 681.22,1763.15 722.15,1763.15 763.08,1763.15 804.01,1763.15 844.94,1763.15 885.87,1763.15 926.8,1763.15 967.73,1763.15 1008.66,1761.49 1049.59,1760.94" fill="none" stroke="#c98be6" stroke-width="1.8" stroke-linejoin="round" stroke-linecap="butt"/>
<polyline points="108.2,1762.6 149.13,1762.6 190.06,1762.6 230.99,1762.6 271.92,1762.6 312.85,1762.6 353.78,1762.6 394.71,1762.6 435.64,1762.6 476.57,1762.6 517.5,1762.6 558.43,1762.6 599.36,1762.6 640.29,1762.6 681.22,1762.6 722.15,1762.6 763.08,1762.6 804.01,1762.6 844.94,1762.6 885.87,1762.6 926.8,1762.6 967.73,1762.6 1008.66,1762.6 1049.59,1762.6" fill="none" stroke="#b08a70" stroke-width="2.0" stroke-linejoin="round" stroke-linecap="butt"/>
</g>
<line x1="172.05" y1="1346.5" x2="172.05" y2="1764.8" stroke="#4ea84b" stroke-width="3.8"/>
<text x="177.55" y="1372.5" font-size="20.5" text-anchor="start" font-weight="normal" font-style="italic" fill="#4ea84b">ws3</text>
<line x1="422.54" y1="1346.5" x2="422.54" y2="1764.8" stroke="#5b90c8" stroke-width="3.8"/>
<text x="428.04" y="1372.5" font-size="20.5" text-anchor="start" font-weight="normal" font-style="italic" fill="#5b90c8">lg1</text>
<line x1="891.6" y1="1346.5" x2="891.6" y2="1764.8" stroke="#e87b2f" stroke-width="3.8"/>
<text x="897.1" y="1372.5" font-size="20.5" text-anchor="start" font-weight="normal" font-style="italic" fill="#e87b2f">gl2</text>
<path fill="#000" fill-rule="evenodd" d="M108.2 1345.3H1049.9V1766.4H108.2Z M109.9 1347.5H1047.1V1763.8H109.9Z"/>
<line x1="108.2" y1="1764.8" x2="108.2" y2="1770.8" stroke="#000" stroke-width="2"/>
<text x="108.2" y="1787.6" font-size="17" text-anchor="middle" font-weight="normal" font-style="normal" fill="#000">0</text>
<line x1="517.5" y1="1764.8" x2="517.5" y2="1770.8" stroke="#000" stroke-width="2"/>
<text x="517.5" y="1787.6" font-size="17" text-anchor="middle" font-weight="normal" font-style="normal" fill="#000">5</text>
<line x1="926.8" y1="1764.8" x2="926.8" y2="1770.8" stroke="#000" stroke-width="2"/>
<text x="926.8" y="1787.6" font-size="17" text-anchor="middle" font-weight="normal" font-style="normal" fill="#000">10</text>
<line x1="102.5" y1="1763.7" x2="108.5" y2="1763.7" stroke="#000" stroke-width="2"/>
<text x="98" y="1769.9" font-size="17" text-anchor="end" font-weight="normal" font-style="normal" fill="#000">0</text>
<line x1="102.5" y1="1625.7" x2="108.5" y2="1625.7" stroke="#000" stroke-width="2"/>
<text x="98" y="1631.9" font-size="17" text-anchor="end" font-weight="normal" font-style="normal" fill="#000">5</text>
<line x1="102.5" y1="1487.7" x2="108.5" y2="1487.7" stroke="#000" stroke-width="2"/>
<text x="98" y="1493.9" font-size="17" text-anchor="end" font-weight="normal" font-style="normal" fill="#000">10</text>
<line x1="102.5" y1="1349.7" x2="108.5" y2="1349.7" stroke="#000" stroke-width="2"/>
<text x="98" y="1355.9" font-size="17" text-anchor="end" font-weight="normal" font-style="normal" fill="#000">15</text>
<text x="578.5" y="1329.5" font-size="24.5" text-anchor="middle" font-weight="normal" font-style="normal" fill="#000">Chromosome 2</text>
<text x="578.5" y="1812.8" font-size="20" text-anchor="middle" font-weight="normal" font-style="normal" fill="#000">Coordinates (Mb)</text>
<text transform="translate(66.5,1555.65) rotate(-90)" font-size="20.5" text-anchor="middle">Percentage of repeat type in 500 kb windows (%)</text>
<clipPath id="cf"><rect x="1195.2" y="1346.5" width="940.1" height="418.3"/></clipPath>
<g clip-path="url(#cf)">
<polyline points="1194.74,1079.22 1220.89,1137.18 1247.05,966.06 1273.2,968.82 1299.36,979.86 1325.51,800.46 1351.66,794.94 1377.82,844.62 1403.98,825.3 1430.13,750.78 1456.29,866.7 1482.44,979.86 1508.6,1043.34 1534.75,985.38 1560.91,850.14 1587.06,886.02 1613.22,943.98 1639.37,811.5 1665.53,866.7 1691.68,1162.02 1717.84,1308.3 1743.99,1272.42 1770.14,1159.26 1796.3,966.06 1822.45,712.14 1848.61,1068.18 1874.77,1117.86 1900.92,852.9 1927.08,1018.5 1953.23,935.7 1979.39,803.22 2005.54,955.02 2031.7,960.54 2057.85,1010.22 2084.01,1037.82 2110.16,866.7 2136.32,805.98" fill="none" stroke="#d4785f" stroke-width="1.9" stroke-linejoin="round" stroke-linecap="butt"/>
<polyline points="1194.74,632.1 1220.89,634.86 1247.05,767.34 1273.2,811.5 1299.36,852.9 1325.51,979.86 1351.66,949.5 1377.82,910.86 1403.98,792.18 1430.13,767.34 1456.29,731.46 1482.44,579.66 1508.6,507.9 1534.75,767.34 1560.91,891.54 1587.06,579.66 1613.22,494.1 1639.37,775.62 1665.53,817.02 1691.68,676.26 1717.84,541.02 1743.99,637.62 1770.14,775.62 1796.3,955.02 1822.45,1059.9 1848.61,477.54 1874.77,466.5 1900.92,728.7 1927.08,623.82 1953.23,698.34 1979.39,742.5 2005.54,598.98 2031.7,676.26 2057.85,458.22 2084.01,295.38 2110.16,574.14 2136.32,676.26" fill="none" stroke="#1f9e50" stroke-width="2.2" stroke-linejoin="round" stroke-linecap="butt"/>
<polyline points="1194.74,1714.3 1220.89,1704.91 1247.05,1733.34 1273.2,1751.83 1299.36,1753.21 1325.51,1744.1 1351.66,1718.44 1377.82,1724.51 1403.98,1751.83 1430.13,1753.21 1456.29,1751.28 1482.44,1751.28 1508.6,1756.25 1534.75,1749.07 1560.91,1728.65 1587.06,1734.72 1613.22,1743 1639.37,1740.52 1665.53,1736.1 1691.68,1716.78 1717.84,1712.64 1743.99,1735.27 1770.14,1725.06 1796.3,1696.36 1822.45,1725.06 1848.61,1744.1 1874.77,1746.04 1900.92,1746.59 1927.08,1728.65 1953.23,1736.93 1979.39,1753.76 2005.54,1751.28 2031.7,1747.69 2057.85,1752.66 2084.01,1751.28 2110.16,1749.07 2136.32,1754.87" fill="none" stroke="#dc6c80" stroke-width="1.8" stroke-linejoin="round" stroke-linecap="butt"/>
<polyline points="1194.74,1624.87 1220.89,1632.6 1247.05,1640.33 1273.2,1699.94 1299.36,1723.4 1325.51,1675.1 1351.66,1678.69 1377.82,1680.9 1403.98,1683.38 1430.13,1732.24 1456.29,1672.07 1482.44,1678.69 1508.6,1711.26 1534.75,1643.92 1560.91,1665.44 1587.06,1732.24 1613.22,1713.19 1639.37,1666.55 1665.53,1711.26 1691.68,1694.15 1717.84,1618.25 1743.99,1629.01 1770.14,1660.75 1796.3,1683.38 1822.45,1677.31 1848.61,1668.48 1874.77,1716.78 1900.92,1738.31 1927.08,1580.71 1953.23,1579.88 1979.39,1726.44 2005.54,1648.88 2031.7,1649.16 2057.85,1694.15 2084.01,1703.53 2110.16,1757.35 2136.32,1704.91" fill="none" stroke="#1d93c9" stroke-width="1.8" stroke-linejoin="round" stroke-linecap="butt"/>
<polyline points="1194.74,1756.25 1220.89,1754.87 1247.05,1753.76 1273.2,1754.32 1299.36,1762.04 1325.51,1762.87 1351.66,1762.87 1377.82,1762.87 1403.98,1762.87 1430.13,1762.87 1456.29,1762.87 1482.44,1752.66 1508.6,1758.18 1534.75,1762.32 1560.91,1762.32 1587.06,1762.32 1613.22,1746.59 1639.37,1746.59 1665.53,1760.94 1691.68,1753.21 1717.84,1753.76 1743.99,1762.32 1770.14,1762.32 1796.3,1762.32 1822.45,1758.18 1848.61,1758.18 1874.77,1762.32 1900.92,1762.32 1927.08,1762.32 1953.23,1762.32 1979.39,1762.32 2005.54,1762.32 2031.7,1762.32 2057.85,1762.32 2084.01,1762.32 2110.16,1762.32 2136.32,1762.32" fill="none" stroke="#5b9bd5" stroke-width="1.8" stroke-linejoin="round" stroke-linecap="butt"/>
<polyline points="1194.74,1716.23 1220.89,1717.88 1247.05,1717.88 1273.2,1716.23 1299.36,1707.12 1325.51,1725.06 1351.66,1717.88 1377.82,1715.68 1403.98,1732.24 1430.13,1725.61 1456.29,1733.34 1482.44,1741.9 1508.6,1716.78 1534.75,1709.05 1560.91,1704.91 1587.06,1715.4 1613.22,1736.93 1639.37,1734.72 1665.53,1724.51 1691.68,1702.43 1717.84,1701.88 1743.99,1698.29 1770.14,1697.18 1796.3,1698.29 1822.45,1698.84 1848.61,1725.06 1874.77,1725.06 1900.92,1708.5 1927.08,1714.3 1953.23,1731.13 1979.39,1727.54 2005.54,1729.2 2031.7,1732.79 2057.85,1730.58 2084.01,1740.52 2110.16,1744.1 2136.32,1752.66" fill="none" stroke="#dc62a2" stroke-width="1.8" stroke-linejoin="round" stroke-linecap="butt"/>
<polyline points="1194.74,1756.25 1220.89,1744.1 1247.05,1742.45 1273.2,1751.28 1299.36,1753.76 1325.51,1754.87 1351.66,1754.87 1377.82,1754.87 1403.98,1759.56 1430.13,1759.56 1456.29,1755.97 1482.44,1758.46 1508.6,1758.18 1534.75,1753.76 1560.91,1755.42 1587.06,1759.56 1613.22,1761.49 1639.37,1760.94 1665.53,1753.76 1691.68,1752.66 1717.84,1757.35 1743.99,1754.87 1770.14,1753.76 1796.3,1754.87 1822.45,1747.69 1848.61,1747.69 1874.77,1747.69 1900.92,1750.73 1927.08,1758.46 1953.23,1754.87 1979.39,1756.25 2005.54,1757.35 2031.7,1756.25 2057.85,1759.56 2084.01,1760.94 2110.16,1758.46 2136.32,1758.46" fill="none" stroke="#b9982a" stroke-width="2.0" stroke-linejoin="round" stroke-linecap="butt"/>
<polyline points="1194.74,1733.34 1220.89,1740.52 1247.05,1741.9 1273.2,1735.82 1299.36,1717.88 1325.51,1708.5 1351.66,1689.18 1377.82,1691.11 1403.98,1713.19 1430.13,1731.13 1456.29,1740.52 1482.44,1741.9 1508.6,1707.12 1534.75,1705.46 1560.91,1738.86 1587.06,1744.93 1613.22,1740.52 1639.37,1741.9 1665.53,1735.82 1691.68,1700.5 1717.84,1710.71 1743.99,1733.34 1770.14,1725.06 1796.3,1696.36 1822.45,1698.84 1848.61,1735.27 1874.77,1739.41 1900.92,1723.96 1927.08,1713.19 1953.23,1733.34 1979.39,1741.9 2005.54,1739.41 2031.7,1741.9 2057.85,1751.28 2084.01,1746.59 2110.16,1735.82 2136.32,1731.68" fill="none" stroke="#d3822e" stroke-width="1.8" stroke-linejoin="round" stroke-linecap="butt"/>
<polyline points="1194.74,1738.31 1220.89,1740.52 1247.05,1761.49 1273.2,1734.72 1299.36,1734.72 1325.51,1757.35 1351.66,1760.94 1377.82,1762.32 1403.98,1762.32 1430.13,1760.94 1456.29,1760.94 1482.44,1751.28 1508.6,1751.83 1534.75,1698.84 1560.91,1672.62 1587.06,1712.09 1613.22,1722.3 1639.37,1729.75 1665.53,1745.48 1691.68,1760.94 1717.84,1729.75 1743.99,1702.98 1770.14,1716.78 1796.3,1732.24 1822.45,1744.1 1848.61,1752.66 1874.77,1761.49 1900.92,1752.66 1927.08,1751.28 1953.23,1758.46 1979.39,1760.94 2005.54,1743 2031.7,1743 2057.85,1762.32 2084.01,1749.07 2110.16,1749.07 2136.32,1759.56" fill="none" stroke="#1a9e80" stroke-width="1.9" stroke-linejoin="round" stroke-linecap="butt"/>
<polyline points="1194.74,1606.93 1220.89,1562.77 1247.05,1640.33 1273.2,1667.1 1299.36,1648.06 1325.51,1645.02 1351.66,1689.18 1377.82,1723.96 1403.98,1682 1430.13,1629.01 1456.29,1678.14 1482.44,1728.65 1508.6,1727.82 1534.75,1726.44 1560.91,1726.16 1587.06,1743 1613.22,1738.31 1639.37,1700.77 1665.53,1699.39 1691.68,1699.94 1717.84,1662.96 1743.99,1689.18 1770.14,1722.58 1796.3,1702.43 1822.45,1706.02 1848.61,1714.02 1874.77,1716.78 1900.92,1736.1 1927.08,1722.3 1953.23,1656.34 1979.39,1688.08 2005.54,1709.6 2031.7,1646.4 2057.85,1682 2084.01,1741.9 2110.16,1747.14 2136.32,1707.12" fill="none" stroke="#1a9c96" stroke-width="1.8" stroke-linejoin="round" stroke-linecap="butt"/>
<polyline points="1194.74,1712.09 1220.89,1714.85 1247.05,1617.7 1273.2,1581.82 1299.36,1609.14 1325.51,1621.28 1351.66,1679.8 1377.82,1677.86 1403.98,1634.26 1430.13,1642.81 1456.29,1657.72 1482.44,1667.1 1508.6,1672.62 1534.75,1673.17 1560.91,1667.1 1587.06,1646.95 1613.22,1676.76 1639.37,1667.1 1665.53,1600.31 1691.68,1637.57 1717.84,1675.1 1743.99,1600.31 1770.14,1627.91 1796.3,1690.56 1822.45,1698.29 1848.61,1673.72 1874.77,1662.41 1900.92,1718.99 1927.08,1706.02 1953.23,1651.64 1979.39,1640.88 2005.54,1649.99 2031.7,1682 2057.85,1679.8 2084.01,1689.18 2110.16,1696.36 2136.32,1653.58" fill="none" stroke="#19a2b8" stroke-width="1.8" stroke-linejoin="round" stroke-linecap="butt"/>
<polyline points="1194.74,1762.04 1220.89,1762.04 1247.05,1762.04 1273.2,1762.04 1299.36,1762.04 1325.51,1762.04 1351.66,1762.04 1377.82,1762.04 1403.98,1762.04 1430.13,1762.04 1456.29,1762.04 1482.44,1762.04 1508.6,1762.04 1534.75,1762.04 1560.91,1762.04 1587.06,1762.04 1613.22,1762.04 1639.37,1762.04 1665.53,1762.04 1691.68,1762.04 1717.84,1762.04 1743.99,1762.04 1770.14,1762.04 1796.3,1762.04 1822.45,1762.04 1848.61,1762.04 1874.77,1762.04 1900.92,1762.04 1927.08,1762.04 1953.23,1762.04 1979.39,1762.04 2005.54,1762.04 2031.7,1762.04 2057.85,1762.04 2084.01,1762.04 2110.16,1762.04 2136.32,1762.04" fill="none" stroke="#d873b8" stroke-width="1.8" stroke-linejoin="round" stroke-linecap="butt"/>
<polyline points="1194.74,1762.32 1220.89,1762.32 1247.05,1762.32 1273.2,1762.32 1299.36,1762.32 1325.51,1762.32 1351.66,1762.32 1377.82,1762.32 1403.98,1762.32 1430.13,1758.46 1456.29,1738.31 1482.44,1741.9 1508.6,1758.18 1534.75,1751.28 1560.91,1746.04 1587.06,1759.56 1613.22,1762.32 1639.37,1762.32 1665.53,1762.32 1691.68,1762.32 1717.84,1762.32 1743.99,1737.76 1770.14,1739.41 1796.3,1759.56 1822.45,1762.32 1848.61,1762.32 1874.77,1762.32 1900.92,1762.32 1927.08,1762.32 1953.23,1762.32 1979.39,1735.82 2005.54,1735.82 2031.7,1762.04 2057.85,1762.32 2084.01,1762.32 2110.16,1762.32 2136.32,1762.32" fill="none" stroke="#79ab30" stroke-width="1.8" stroke-linejoin="round" stroke-linecap="butt"/>
<polyline points="1194.74,1761.49 1220.89,1760.94 1247.05,1760.94 1273.2,1761.49 1299.36,1762.04 1325.51,1762.32 1351.66,1762.32 1377.82,1762.32 1403.98,1762.32 1430.13,1762.32 1456.29,1762.32 1482.44,1762.32 1508.6,1762.32 1534.75,1762.32 1560.91,1762.32 1587.06,1762.32 1613.22,1762.32 1639.37,1762.32 1665.53,1762.32 1691.68,1762.32 1717.84,1762.32 1743.99,1762.32 1770.14,1762.32 1796.3,1762.32 1822.45,1760.94 1848.61,1760.39 1874.77,1760.94 1900.92,1762.32 1927.08,1762.32 1953.23,1762.32 1979.39,1762.32 2005.54,1762.32 2031.7,1762.32 2057.85,1762.32 2084.01,1762.32 2110.16,1760.94 2136.32,1760.39" fill="none" stroke="#8a8ae0" stroke-width="1.8" stroke-linejoin="round" stroke-linecap="butt"/>
<polyline points="1194.74,1762.6 1220.89,1762.6 1247.05,1762.6 1273.2,1762.6 1299.36,1762.6 1325.51,1762.6 1351.66,1762.6 1377.82,1762.6 1403.98,1762.6 1430.13,1762.6 1456.29,1762.6 1482.44,1762.6 1508.6,1762.6 1534.75,1762.6 1560.91,1762.6 1587.06,1762.6 1613.22,1762.6 1639.37,1762.6 1665.53,1762.6 1691.68,1762.6 1717.84,1762.6 1743.99,1762.6 1770.14,1762.6 1796.3,1762.6 1822.45,1762.6 1848.61,1762.6 1874.77,1762.6 1900.92,1762.6 1927.08,1762.6 1953.23,1762.6 1979.39,1762.6 2005.54,1762.6 2031.7,1762.6 2057.85,1762.6 2084.01,1762.6 2110.16,1762.6 2136.32,1762.6" fill="none" stroke="#c98be6" stroke-width="1.8" stroke-linejoin="round" stroke-linecap="butt"/>
<polyline points="1194.74,1762.87 1220.89,1762.87 1247.05,1762.87 1273.2,1762.87 1299.36,1762.87 1325.51,1762.87 1351.66,1762.87 1377.82,1762.87 1403.98,1762.87 1430.13,1762.87 1456.29,1762.87 1482.44,1762.87 1508.6,1762.87 1534.75,1762.87 1560.91,1762.87 1587.06,1762.87 1613.22,1762.87 1639.37,1762.87 1665.53,1762.87 1691.68,1762.87 1717.84,1762.87 1743.99,1762.87 1770.14,1762.87 1796.3,1762.87 1822.45,1762.87 1848.61,1762.87 1874.77,1762.87 1900.92,1762.87 1927.08,1762.87 1953.23,1762.87 1979.39,1762.87 2005.54,1762.87 2031.7,1762.87 2057.85,1762.87 2084.01,1762.87 2110.16,1762.87 2136.32,1762.87" fill="none" stroke="#b08a70" stroke-width="2.0" stroke-linejoin="round" stroke-linecap="butt"/>
</g>
<line x1="1320.28" y1="1346.5" x2="1320.28" y2="1764.8" stroke="#e87b2f" stroke-width="3.8"/>
<text x="1325.78" y="1372.5" font-size="20.5" text-anchor="start" font-weight="normal" font-style="italic" fill="#e87b2f">c1</text>
<line x1="1404.5" y1="1346.5" x2="1404.5" y2="1764.8" stroke="#5b90c8" stroke-width="3.8"/>
<text x="1410" y="1372.5" font-size="20.5" text-anchor="start" font-weight="normal" font-style="italic" fill="#5b90c8">sh1</text>
<line x1="2064.65" y1="1346.5" x2="2064.65" y2="1764.8" stroke="#4ea84b" stroke-width="3.8"/>
<text x="2070.15" y="1372.5" font-size="20.5" text-anchor="start" font-weight="normal" font-style="italic" fill="#4ea84b">wx1</text>
<path fill="#000" fill-rule="evenodd" d="M1194.2 1345.3H2136.9V1766.2H1194.2Z M1196 1347.5H2133.9V1763.6H1196Z"/>
<line x1="1273.2" y1="1764.8" x2="1273.2" y2="1770.8" stroke="#000" stroke-width="2"/>
<text x="1273.2" y="1787.6" font-size="17" text-anchor="middle" font-weight="normal" font-style="normal" fill="#000">10</text>
<line x1="1534.75" y1="1764.8" x2="1534.75" y2="1770.8" stroke="#000" stroke-width="2"/>
<text x="1534.75" y="1787.6" font-size="17" text-anchor="middle" font-weight="normal" font-style="normal" fill="#000">15</text>
<line x1="1796.3" y1="1764.8" x2="1796.3" y2="1770.8" stroke="#000" stroke-width="2"/>
<text x="1796.3" y="1787.6" font-size="17" text-anchor="middle" font-weight="normal" font-style="normal" fill="#000">20</text>
<line x1="2057.85" y1="1764.8" x2="2057.85" y2="1770.8" stroke="#000" stroke-width="2"/>
<text x="2057.85" y="1787.6" font-size="17" text-anchor="middle" font-weight="normal" font-style="normal" fill="#000">25</text>
<line x1="1189.2" y1="1763.7" x2="1195.2" y2="1763.7" stroke="#000" stroke-width="2"/>
<text x="1184.7" y="1769.9" font-size="17" text-anchor="end" font-weight="normal" font-style="normal" fill="#000">0</text>
<line x1="1189.2" y1="1625.7" x2="1195.2" y2="1625.7" stroke="#000" stroke-width="2"/>
<text x="1184.7" y="1631.9" font-size="17" text-anchor="end" font-weight="normal" font-style="normal" fill="#000">5</text>
<line x1="1189.2" y1="1487.7" x2="1195.2" y2="1487.7" stroke="#000" stroke-width="2"/>
<text x="1184.7" y="1493.9" font-size="17" text-anchor="end" font-weight="normal" font-style="normal" fill="#000">10</text>
<line x1="1189.2" y1="1349.7" x2="1195.2" y2="1349.7" stroke="#000" stroke-width="2"/>
<text x="1184.7" y="1355.9" font-size="17" text-anchor="end" font-weight="normal" font-style="normal" fill="#000">15</text>
<text x="1665.25" y="1329.5" font-size="24.5" text-anchor="middle" font-weight="normal" font-style="normal" fill="#000">Chromosome 9</text>
<text x="1665.25" y="1812.8" font-size="20" text-anchor="middle" font-weight="normal" font-style="normal" fill="#000">Coordinates (Mb)</text>
<text transform="translate(1153,1555.65) rotate(-90)" font-size="20.5" text-anchor="middle">Percentage of repeat type in 500 kb windows (%)</text>
<text x="1.5" y="33.6" font-size="49" text-anchor="start" font-weight="bold" font-style="normal" fill="#000">a</text>
<text x="1095" y="33.9" font-size="49" text-anchor="start" font-weight="bold" font-style="normal" fill="#000">d</text>
<text x="-3.4" y="666.5" font-size="49" text-anchor="start" font-weight="bold" font-style="normal" fill="#000">b</text>
<text x="1091.4" y="666.4" font-size="49" text-anchor="start" font-weight="bold" font-style="normal" fill="#000">e</text>
<text x="-0.6" y="1316.2" font-size="49" text-anchor="start" font-weight="bold" font-style="normal" fill="#000">c</text>
<text x="1092" y="1316.5" font-size="49" text-anchor="start" font-weight="bold" font-style="normal" fill="#000">f</text>
<line x1="206" y1="1885" x2="234" y2="1885" stroke="#d4785f" stroke-width="2.0"/>
<text x="244.7" y="1894.3" font-size="21.5" text-anchor="start" font-weight="normal" font-style="normal" fill="#000">Copia</text>
<line x1="206" y1="1918.5" x2="234" y2="1918.5" stroke="#1f9e50" stroke-width="2.4"/>
<text x="244.7" y="1927.95" font-size="21.5" text-anchor="start" font-weight="normal" font-style="normal" fill="#000">Gypsy</text>
<line x1="206" y1="1952.2" x2="234" y2="1952.2" stroke="#d98c98" stroke-width="1.5"/>
<text x="244.7" y="1961.6" font-size="21.5" text-anchor="start" font-weight="normal" font-style="normal" fill="#000">Mutator</text>
<line x1="206" y1="1986" x2="234" y2="1986" stroke="#1b8ec4" stroke-width="2.2"/>
<text x="244.7" y="1995.25" font-size="21.5" text-anchor="start" font-weight="normal" font-style="normal" fill="#000">LTR</text>
<line x1="206" y1="2019.6" x2="234" y2="2019.6" stroke="#5b9bd5" stroke-width="1.8"/>
<text x="244.7" y="2028.9" font-size="21.5" text-anchor="start" font-weight="normal" font-style="normal" fill="#000">RTE</text>
<line x1="206" y1="2053.2" x2="234" y2="2053.2" stroke="#dc62a2" stroke-width="2.2"/>
<text x="244.7" y="2062.55" font-size="21.5" text-anchor="start" font-weight="normal" font-style="normal" fill="#000">hAT</text>
<line x1="206" y1="2086.4" x2="234" y2="2086.4" stroke="#b9982a" stroke-width="2.2"/>
<text x="244.7" y="2096.2" font-size="21.5" text-anchor="start" font-weight="normal" font-style="normal" fill="#000">TC1-Mariner</text>
<line x1="206" y1="2120.3" x2="234" y2="2120.3" stroke="#d3822e" stroke-width="2.2"/>
<text x="244.7" y="2129.85" font-size="21.5" text-anchor="start" font-weight="normal" font-style="normal" fill="#000">PIF - Harbinger</text>
<line x1="411" y1="1883.7" x2="439" y2="1883.7" stroke="#5cbab4" stroke-width="1.8"/>
<text x="449.2" y="1894.3" font-size="21.5" text-anchor="start" font-weight="normal" font-style="normal" fill="#000">helitron</text>
<line x1="411" y1="1917.7" x2="439" y2="1917.7" stroke="#1b9c80" stroke-width="2.2"/>
<text x="449.2" y="1927.95" font-size="21.5" text-anchor="start" font-weight="normal" font-style="normal" fill="#000">L1</text>
<line x1="411" y1="1950.9" x2="439" y2="1950.9" stroke="#17a3b5" stroke-width="2.2"/>
<text x="449.2" y="1961.6" font-size="21.5" text-anchor="start" font-weight="normal" font-style="normal" fill="#000">CACTA</text>
<line x1="411" y1="1984.5" x2="439" y2="1984.5" stroke="#e07ad8" stroke-width="1.5"/>
<text x="449.2" y="1995.25" font-size="21.5" text-anchor="start" font-weight="normal" font-style="normal" fill="#000">SINE</text>
<line x1="411" y1="2018" x2="439" y2="2018" stroke="#79ab30" stroke-width="2.2"/>
<text x="449.2" y="2028.9" font-size="21.5" text-anchor="start" font-weight="normal" font-style="normal" fill="#000">LINE</text>
<line x1="411" y1="2051.4" x2="439" y2="2051.4" stroke="#8a8ae0" stroke-width="2.2"/>
<text x="449.2" y="2062.55" font-size="21.5" text-anchor="start" font-weight="normal" font-style="normal" fill="#000">Subtelomeric repeats</text>
<line x1="411" y1="2085" x2="439" y2="2085" stroke="#c98be6" stroke-width="1.5"/>
<text x="449.2" y="2096.2" font-size="21.5" text-anchor="start" font-weight="normal" font-style="normal" fill="#000">knob</text>
<line x1="411" y1="2118.8" x2="439" y2="2118.8" stroke="#9aa21e" stroke-width="2.0"/>
<text x="449.2" y="2129.85" font-size="21.5" text-anchor="start" font-weight="normal" font-style="normal" fill="#000">Centromeric repeats</text>
</svg>
</body></html>
